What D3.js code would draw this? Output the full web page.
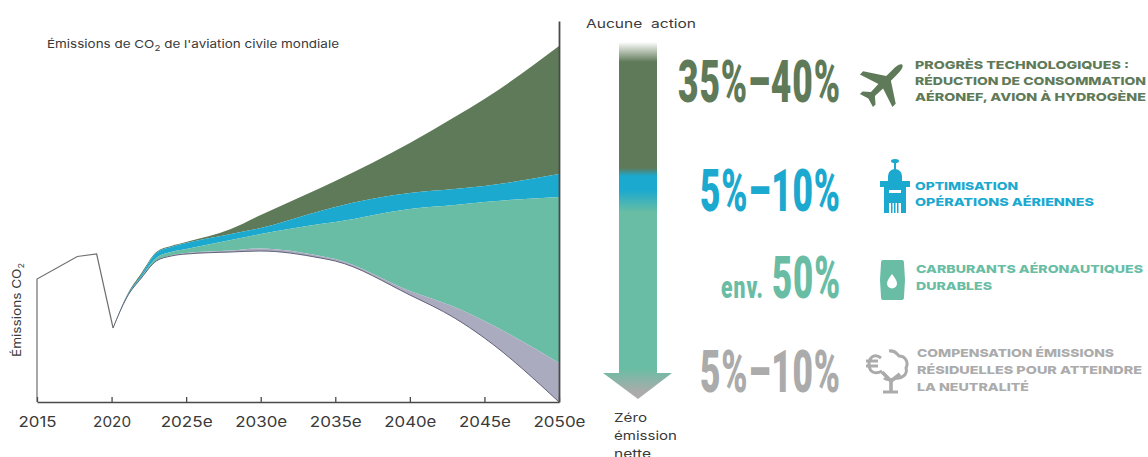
<!DOCTYPE html>
<html lang="fr">
<head>
<meta charset="utf-8">
<title>Émissions de CO2 de l'aviation civile mondiale</title>
<script src="https://cdn.jsdelivr.net/npm/d3@7"></script>
<style>
  html, body { margin: 0; padding: 0; background: #fff; }
  svg { display: block; }
  .ui { font-family: Inter, "DejaVu Sans", sans-serif; fill: #3a3a3a; }
  .big { font-family: Roboto, "Liberation Sans", sans-serif; font-weight: 900; }
  .lever { font-family: Inter, "Open Sans", sans-serif; font-weight: 800; font-size: 11px; }
</style>
</head>
<body>
<script>
// Historical emissions up to the 2020 trough
const historyYears = [2015, 2015, 2017.7, 2019, 2020.1];
const historyValues = [0, 123, 145.5, 148, 74];

// Projection years and the upper edge of each stacked contribution
const projectionYears = [2020.1, 2021, 2022, 2023, 2024, 2025, 2028, 2030, 2034, 2035, 2040, 2043, 2045, 2050];
const noActionPath = [74, 106, 129, 150, 156, 160, 173, 187, 214, 221, 259, 285, 303, 356];
const technologyFloor = [74, 105, 127, 149, 155, 159, 168, 174, 191, 195, 209, 213, 216, 228];
const operationsFloor = [74, 104, 125, 144, 150, 153, 162, 168, 178, 180, 193, 197, 200, 205];
const fuelsFloor = [74, 104, 124, 141, 146.5, 149, 151.5, 153.5, 146, 143, 111, 95, 81, 39];
const netZeroPath = [74, 104, 124, 141, 146, 148, 150, 151, 144, 141, 107, 84, 64, 0];

const tickYears = [2015, 2020, 2025, 2030, 2035, 2040, 2045, 2050];
const tickLabels = ["2015", "2020", "2025e", "2030e", "2035e", "2040e", "2045e", "2050e"];

const shareLabels = ["35%–40%", "5%–10%", "50%", "5%–10%"];
const leverLines = [
  ["PROGRÈS TECHNOLOGIQUES :", "RÉDUCTION DE CONSOMMATION", "AÉRONEF, AVION À HYDROGÈNE"],
  ["OPTIMISATION", "OPÉRATIONS AÉRIENNES"],
  ["CARBURANTS AÉRONAUTIQUES", "DURABLES"],
  ["COMPENSATION ÉMISSIONS", "RÉSIDUELLES POUR ATTEINDRE", "LA NEUTRALITÉ"]
];

const GREEN = "#5f7a58", BLUE = "#1ba9cf", TEAL = "#68bda4", LILAC = "#ababc0", GREY = "#ababab";

const svg = d3.select("body").append("svg").attr("width", 1148).attr("height", 457);
const x = d3.scaleLinear().domain([2015, 2050]).range([37, 559]);
const y = d3.scaleLinear().domain([0, 381]).range([402, 21]);

// Stacked bands between consecutive edges
const bands = [
  [noActionPath, technologyFloor, GREEN],
  [technologyFloor, operationsFloor, BLUE],
  [operationsFloor, fuelsFloor, TEAL],
  [fuelsFloor, netZeroPath, LILAC]
];
const area = d3.area().curve(d3.curveMonotoneX)
  .x(d => x(d.year)).y0(d => y(d.low)).y1(d => y(d.high));
bands.forEach(([top, bottom, colour]) => {
  const rows = projectionYears.map((year, i) => ({ year, high: top[i], low: bottom[i] }));
  svg.append("path").datum(rows).attr("d", area).attr("fill", colour);
});

// Observed curve, continued by the net-zero trajectory
const line = d3.line().x(d => x(d[0])).y(d => y(d[1]));
svg.append("path")
  .datum(historyYears.map((yr, i) => [yr, historyValues[i]]))
  .attr("d", line).attr("fill", "none").attr("stroke", "#6f6f6f").attr("stroke-width", 1.2);
svg.append("path")
  .datum(projectionYears.map((yr, i) => [yr, netZeroPath[i]]))
  .attr("d", line.curve(d3.curveMonotoneX)).attr("fill", "none").attr("stroke", "#62627a").attr("stroke-width", 1);

// Axes
const xAxis = d3.axisBottom(x)
  .tickValues(tickYears)
  .tickFormat((d, i) => tickLabels[i])
  .tickSizeInner(-5).tickSizeOuter(0).tickPadding(14);
const gx = svg.append("g").attr("transform", `translate(0,${y(0)})`).call(xAxis);
gx.select(".domain").attr("stroke", "#4a4a4a").attr("stroke-width", 1.5);
gx.selectAll(".tick line").attr("stroke", "#4a4a4a").attr("stroke-width", 1.3);
gx.selectAll(".tick text").attr("class", "ui").attr("font-size", 15)
  .attr("textLength", (d, i) => tickLabels[i].length === 4 ? 38 : 52)
  .attr("lengthAdjust", "spacingAndGlyphs");

const gy = svg.append("g").attr("transform", `translate(${x(2050)},0)`)
  .call(d3.axisRight(y).tickValues([]).tickSizeOuter(0));
gy.select(".domain").attr("stroke", "#4a4a4a").attr("stroke-width", 1.8);

// Chart title and vertical axis label
const title = svg.append("text").attr("class", "ui").attr("x", 47).attr("y", 48)
  .attr("font-size", 11).attr("textLength", 292).attr("lengthAdjust", "spacingAndGlyphs");
title.append("tspan").text("Émissions de CO");
title.append("tspan").attr("font-size", 8).attr("dy", 3).text("2");
title.append("tspan").attr("dy", -3).text(" de l'aviation civile mondiale");

const yLabel = svg.append("text").attr("class", "ui")
  .attr("transform", "translate(21,357) rotate(-90)").attr("font-size", 12)
  .attr("textLength", 94).attr("lengthAdjust", "spacingAndGlyphs");
yLabel.append("tspan").text("Émissions CO");
yLabel.append("tspan").attr("font-size", 8).attr("dy", 3).text("2");

// Vertical arrow from "no action" to net zero
const defs = svg.append("defs");
const grad = defs.append("linearGradient").attr("id", "arrowFill")
  .attr("gradientUnits", "userSpaceOnUse").attr("x1", 0).attr("x2", 0).attr("y1", 42).attr("y2", 400);
[[42, "#ffffff"], [62, GREEN], [168, GREEN], [176, BLUE], [190, BLUE], [212, TEAL], [368, TEAL], [392, GREY], [400, GREY]]
  .forEach(([at, colour]) => grad.append("stop").attr("offset", (at - 42) / 358).attr("stop-color", colour));
svg.append("path").attr("fill", "url(#arrowFill)")
  .attr("d", "M619,42H657V373H672L638,399L603,373H619Z");

svg.append("text").attr("class", "ui").attr("x", 586).attr("y", 28).attr("font-size", 12)
  .attr("textLength", 110).attr("lengthAdjust", "spacingAndGlyphs").attr("xml:space", "preserve").text("Aucune  action");
[["Zéro", 33], ["émission", 63], ["nette", 37]].forEach(([word, width], i) => {
  svg.append("text").attr("class", "ui").attr("x", 614).attr("y", 422 + i * 18)
    .attr("font-size", 12).attr("textLength", width).attr("lengthAdjust", "spacingAndGlyphs").text(word);
});

// Large share figures: a heavy face squeezed horizontally to the wanted width
function bigText(label, xEnd, baseline, width, size, colour, weight = 900) {
  const t = svg.append("text").attr("class", "big")
    .attr("font-size", size).attr("font-weight", weight).attr("fill", colour)
    .attr("letter-spacing", 1.5).attr("text-anchor", "start").text(label);
  const natural = t.node().getComputedTextLength();
  t.attr("transform", `translate(${xEnd - width},${baseline}) scale(${width / natural},1)`);
}
bigText(shareLabels[0], 841, 102, 163, 60, GREEN);
bigText(shareLabels[1], 841, 211, 141, 60, BLUE);
bigText(shareLabels[2], 841, 298, 69, 60, TEAL);
bigText("env.", 764, 298, 43, 32, TEAL, 700);
bigText(shareLabels[3], 841, 392, 141, 60, GREY);

// Lever descriptions, each line fitted to its measured width
const leverLayout = [
  { colour: GREEN, x: 915, baselines: [69, 85, 101], widths: [214, 231, 231] },
  { colour: BLUE, x: 915, baselines: [190, 206], widths: [103, 179] },
  { colour: TEAL, x: 916, baselines: [273, 290], widths: [227, 76] },
  { colour: GREY, x: 917, baselines: [357, 374, 391], widths: [197, 225, 112] }
];
leverLines.forEach((lines, k) => {
  const o = leverLayout[k];
  lines.forEach((txt, i) => {
    svg.append("text").attr("class", "lever").attr("x", o.x).attr("y", o.baselines[i])
      .attr("fill", o.colour).attr("textLength", o.widths[i]).attr("lengthAdjust", "spacingAndGlyphs").text(txt);
  });
});

// Plane icon
svg.append("path").attr("fill", GREEN).attr("transform", "translate(884,83) rotate(45) scale(0.92)")
  .attr("d", "M0,-28C3,-28 3.6,-21 3.6,-15L3.6,-7L25,7L25,12L3.6,5L3,17L10,23L10,27L0,24L-10,27L-10,23L-3,17L-3.6,5L-25,12L-25,7L-3.6,-7L-3.6,-15C-3.6,-21 -3,-28 0,-28Z");

// Control tower icon
const tower = svg.append("g").attr("fill", BLUE);
tower.append("ellipse").attr("cx", 895).attr("cy", 161).attr("rx", 4).attr("ry", 2);
tower.append("rect").attr("x", 894).attr("y", 161).attr("width", 2).attr("height", 10);
tower.append("path").attr("d", "M888,183V176A7,7 0 0 1 902,176V183Z");
tower.append("rect").attr("x", 880).attr("y", 181).attr("width", 30).attr("height", 6);
tower.append("rect").attr("x", 884).attr("y", 187).attr("width", 22).attr("height", 26);
tower.append("rect").attr("x", 889).attr("y", 190).attr("width", 12).attr("height", 3).attr("fill", "#fff");
tower.append("rect").attr("x", 889).attr("y", 203).attr("width", 12).attr("height", 10).attr("fill", "#fff");
[891, 894, 897].forEach(px => tower.append("rect").attr("x", px).attr("y", 203).attr("width", 1.5).attr("height", 10));

// Fuel barrel icon
svg.append("path").attr("fill", TEAL)
  .attr("d", "M883,260H902Q904,260 904,263L905,280L904,297Q904,300 902,300H883Q881,300 881,297L880,280L881,263Q881,260 883,260Z");
svg.append("path").attr("fill", "#fff")
  .attr("d", "M892,274C895,278 897,281 897,283.5A5,5 0 0 1 887,283.5C887,281 889,278 892,274Z");

// Offset tree icon
const tree = svg.append("g").attr("fill", "none").attr("stroke", GREY).attr("stroke-width", 3);
tree.append("path").attr("d", "M889,351C895,350 897,354 899,356C905,356 909,362 906,368C908,374 902,379 896,378C892,381 886,380 884,378");
tree.append("path").attr("stroke-width", 3.6).attr("d", "M891,392V379M882,372L891,381M900,374L891,381");
tree.append("path").attr("d", "M881,358C875,353 869,357 869,364C869,372 875,375 882,371M866,361H878M866,366H878");
tree.append("path").attr("d", "M883,392H898");
</script>
</body>
</html>
